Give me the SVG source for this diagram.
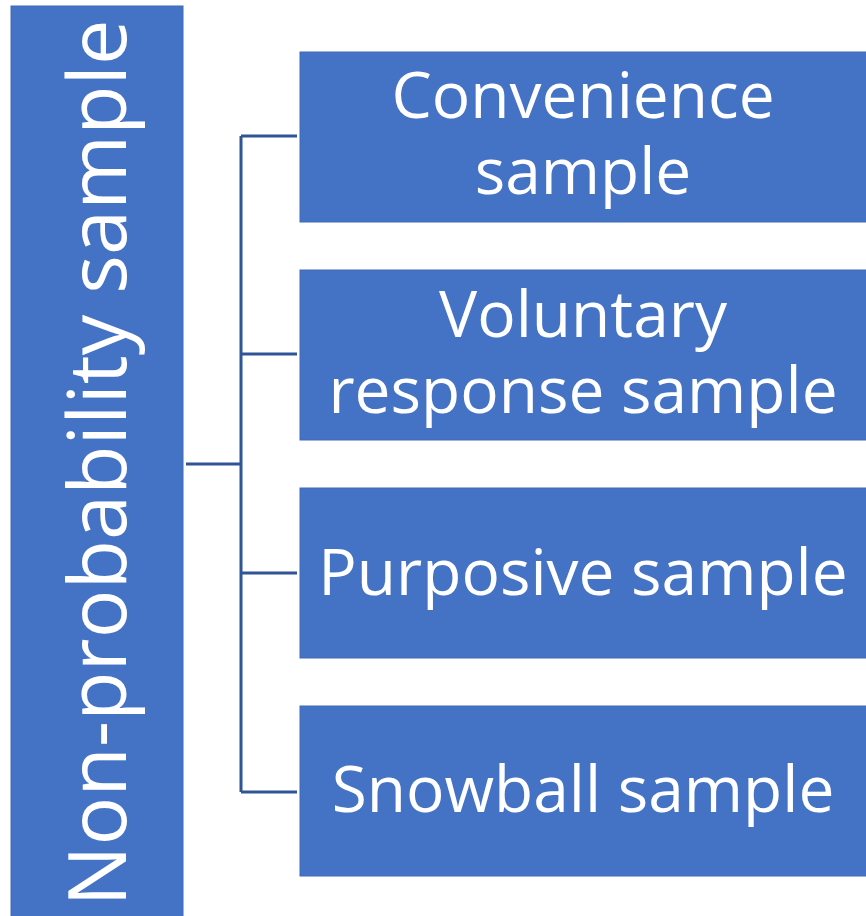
<svg xmlns="http://www.w3.org/2000/svg" width="866" height="916" viewBox="0 0 866 916">
<style>
.box{fill:#4472C4;stroke:#3f6ab8;stroke-width:1}
.t{fill:#ffffff;font-family:"Open Sans","Noto Sans",sans-serif;font-size:64px;text-anchor:middle}
.c{fill:none;stroke:#2F5597;stroke-width:3}
</style>
<rect width="866" height="916" fill="#ffffff"/>
<g id="root">
<rect class="box" x="11" y="6" width="172" height="912"/>
<text class="t" style="font-size:81px" transform="translate(126,463) rotate(-90)" x="0" y="0">Non-probability sample</text>
</g>
<g id="connectors">
<path class="c" d="M186,464H241M241,136V792M241,136H297M241,354H297M241,573H297M241,792H297"/>
</g>
<g id="n1">
<rect class="box" x="300" y="52" width="570" height="170"/>
<text class="t" x="583" y="118">Convenience</text>
<text class="t" x="583" y="194">sample</text>
</g>
<g id="n2">
<rect class="box" x="300" y="270" width="570" height="170"/>
<text class="t" x="583" y="337">Voluntary</text>
<text class="t" x="583" y="413">response sample</text>
</g>
<g id="n3">
<rect class="box" x="300" y="488" width="570" height="170"/>
<text class="t" x="583" y="595">Purposive sample</text>
</g>
<g id="n4">
<rect class="box" x="300" y="706" width="570" height="170"/>
<text class="t" x="583" y="812">Snowball sample</text>
</g>
</svg>
